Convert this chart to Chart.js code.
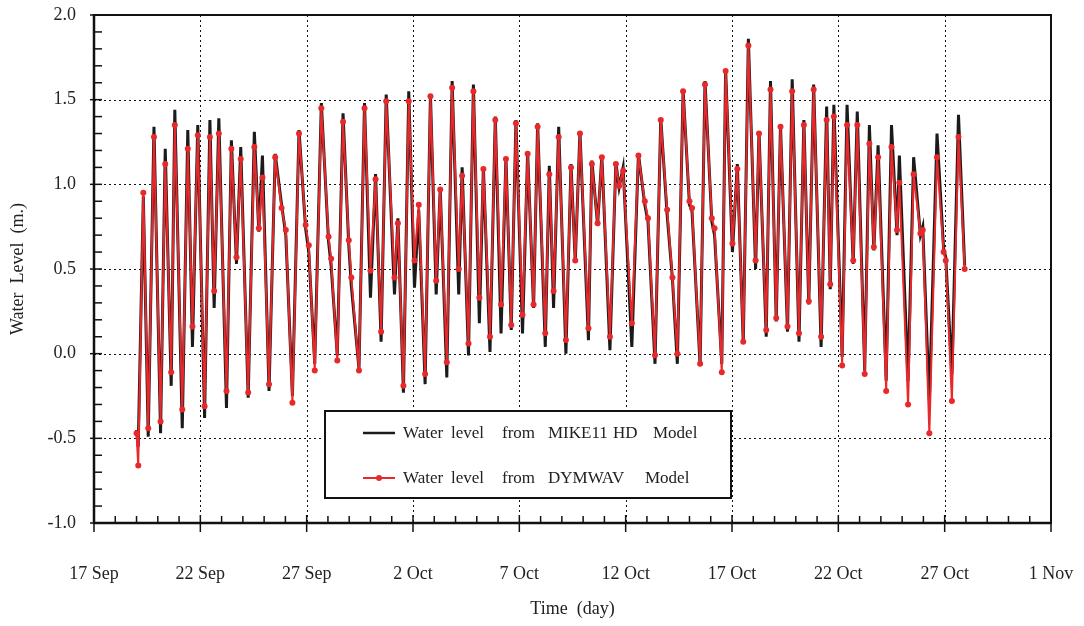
<!DOCTYPE html>
<html>
<head>
<meta charset="utf-8">
<script src="https://cdn.jsdelivr.net/npm/chart.js@4.4.1/dist/chart.umd.min.js"></script>
<style>
  html, body { margin: 0; padding: 0; background: #ffffff; }
  #wrap { width: 1084px; height: 626px; }
</style>
</head>
<body>
<div id="wrap"><canvas id="c" width="1084" height="626"></canvas></div>
<script>
// Time of each sample, in days after 17 Sep 00:00
const dayOffsets = [
  2.00, 2.08, 2.32, 2.55, 2.82, 3.13, 3.35, 3.63, 3.80, 4.15,
  4.41, 4.63, 4.88, 5.20, 5.45, 5.65, 5.87, 6.23, 6.46, 6.70,
  6.90, 7.25, 7.54, 7.75, 7.92, 8.23, 8.52, 8.82, 9.02, 9.33,
  9.64, 9.95, 10.10, 10.38, 10.69, 11.03, 11.15, 11.44, 11.71, 11.98,
  12.10, 12.46, 12.72, 13.00, 13.24, 13.50, 13.74, 14.13, 14.29, 14.55,
  14.80, 15.07, 15.27, 15.57, 15.82, 16.09, 16.28, 16.59, 16.84, 17.15,
  17.31, 17.61, 17.84, 18.12, 18.31, 18.62, 18.87, 19.14, 19.37, 19.62,
  19.84, 20.15, 20.39, 20.67, 20.86, 21.22, 21.41, 21.61, 21.85, 22.19,
  22.43, 22.63, 22.85, 23.25, 23.41, 23.68, 23.88, 24.26, 24.54, 24.69,
  24.88, 25.29, 25.60, 25.90, 26.05, 26.38, 26.65, 26.95, 27.20, 27.43,
  27.70, 28.00, 28.12, 28.50, 28.73, 29.05, 29.18, 29.52, 29.70, 30.02,
  30.25, 30.53, 30.77, 31.11, 31.27, 31.61, 31.81, 32.08, 32.28, 32.61,
  32.83, 33.15, 33.38, 33.61, 33.84, 34.19, 34.45, 34.62, 34.79, 35.18,
  35.41, 35.70, 35.89, 36.24, 36.46, 36.67, 36.87, 37.25, 37.50, 37.76,
  37.87, 38.28, 38.54, 38.86, 38.97, 39.28, 39.64, 39.95, 40.05, 40.34,
  40.65, 40.94
];

// Water level (m) from the MIKE11 HD model
const mike11Level = [
  -0.45, -0.55, 0.93, -0.49, 1.34, -0.47, 1.21, -0.19, 1.44, -0.44,
  1.32, 0.04, 1.35, -0.38, 1.38, 0.27, 1.39, -0.32, 1.26, 0.53,
  1.22, -0.26, 1.31, 0.72, 1.17, -0.22, 1.18, 0.88, 0.70, -0.25,
  1.32, 0.74, 0.60, -0.06, 1.48, 0.66, 0.52, -0.01, 1.42, 0.64,
  0.40, -0.09, 1.48, 0.33, 1.06, 0.07, 1.53, 0.35, 0.80, -0.23,
  1.55, 0.39, 0.85, -0.18, 1.53, 0.35, 0.98, -0.14, 1.61, 0.35,
  1.10, -0.01, 1.59, 0.18, 1.10, 0.01, 1.40, 0.12, 1.16, 0.14,
  1.38, 0.12, 1.19, 0.27, 1.36, 0.04, 1.11, 0.27, 1.34, 0.00,
  1.12, 0.54, 1.31, 0.08, 1.14, 0.76, 1.17, 0.02, 1.13, 0.98,
  1.10, 0.04, 1.18, 0.88, 0.78, -0.06, 1.39, 0.82, 0.44, -0.06,
  1.56, 0.88, 0.84, -0.07, 1.61, 0.78, 0.70, -0.06, 1.68, 0.60,
  1.12, 0.06, 1.86, 0.50, 1.31, 0.10, 1.61, 0.19, 1.35, 0.13,
  1.62, 0.07, 1.38, 0.29, 1.59, 0.04, 1.46, 0.38, 1.47, -0.02,
  1.47, 0.53, 1.43, -0.10, 1.35, 0.61, 1.23, -0.16, 1.35, 0.70,
  1.17, -0.16, 1.16, 0.70, 0.75, -0.28, 1.30, 0.62, 0.57, -0.12,
  1.41, 0.52
];

// Water level (m) from the DYMWAV model
const dymwavLevel = [
  -0.47, -0.66, 0.95, -0.44, 1.28, -0.40, 1.12, -0.11, 1.35, -0.33,
  1.21, 0.16, 1.29, -0.31, 1.28, 0.37, 1.30, -0.22, 1.21, 0.57,
  1.15, -0.23, 1.22, 0.74, 1.04, -0.18, 1.16, 0.86, 0.73, -0.29,
  1.30, 0.76, 0.64, -0.10, 1.45, 0.69, 0.56, -0.04, 1.37, 0.67,
  0.45, -0.10, 1.45, 0.49, 1.03, 0.13, 1.49, 0.45, 0.77, -0.19,
  1.49, 0.55, 0.88, -0.12, 1.52, 0.43, 0.97, -0.05, 1.57, 0.50,
  1.05, 0.06, 1.55, 0.33, 1.09, 0.10, 1.38, 0.29, 1.15, 0.17,
  1.36, 0.23, 1.18, 0.29, 1.34, 0.12, 1.06, 0.37, 1.28, 0.08,
  1.10, 0.55, 1.30, 0.15, 1.12, 0.77, 1.16, 0.10, 1.12, 0.99,
  1.08, 0.18, 1.17, 0.90, 0.80, -0.01, 1.38, 0.85, 0.45, 0.00,
  1.55, 0.90, 0.86, -0.06, 1.59, 0.80, 0.74, -0.11, 1.67, 0.65,
  1.09, 0.07, 1.82, 0.55, 1.30, 0.14, 1.56, 0.21, 1.34, 0.16,
  1.55, 0.12, 1.35, 0.31, 1.56, 0.10, 1.38, 0.41, 1.40, -0.07,
  1.35, 0.55, 1.35, -0.12, 1.24, 0.63, 1.16, -0.22, 1.22, 0.73,
  1.01, -0.30, 1.06, 0.71, 0.73, -0.47, 1.16, 0.60, 0.55, -0.28,
  1.28, 0.50
];

// Date labels for every fifth day on the time axis
const dateLabels = ['17 Sep', '22 Sep', '27 Sep', '2 Oct', '7 Oct', '12 Oct', '17 Oct', '22 Oct', '27 Oct', '1 Nov'];

// Level ticks (m)
const levelTicks = [-1.0, -0.5, 0.0, 0.5, 1.0, 1.5, 2.0];

const seriesNames = ['Water level from MIKE11 HD Model', 'Water level from DYMWAV Model'];

const RED = '#e8292b';
const BLACK = '#1b1b1b';
const TEXT = '#222222';
const SERIF = '"Liberation Serif", "DejaVu Serif", serif';

const toPoints = (vals) => dayOffsets.map((d, i) => ({ x: d, y: vals[i] }));

// Frame, dotted grid and inward tick marks, placed through the chart's scales
const frameAndGrid = {
  id: 'frameAndGrid',
  beforeDatasetsDraw(chart) {
    const { ctx, chartArea: a, scales: { x, y } } = chart;
    ctx.save();
    ctx.strokeStyle = '#111';
    ctx.lineWidth = 1;
    ctx.setLineDash([2, 3]);
    for (let d = 5; d < 45; d += 5) {
      const px = Math.round(x.getPixelForValue(d)) + 0.5;
      ctx.beginPath(); ctx.moveTo(px, a.top); ctx.lineTo(px, a.bottom); ctx.stroke();
    }
    levelTicks.forEach(v => {
      if (v <= -1 || v >= 2) return;
      const py = Math.round(y.getPixelForValue(v)) + 0.5;
      ctx.beginPath(); ctx.moveTo(a.left, py); ctx.lineTo(a.right, py); ctx.stroke();
    });
    ctx.restore();
  },
  afterDatasetsDraw(chart) {
    const { ctx, chartArea: a, scales: { x, y } } = chart;
    ctx.save();
    ctx.strokeStyle = '#111';
    ctx.setLineDash([]);
    // one tick per day on the time axis; every fifth day crosses the axis
    ctx.lineWidth = 1.5;
    for (let d = 1; d < 45; d++) {
      const px = x.getPixelForValue(d);
      ctx.beginPath();
      if (d % 5 === 0) { ctx.moveTo(px, a.bottom - 8); ctx.lineTo(px, a.bottom + 9); }
      else { ctx.moveTo(px, a.bottom); ctx.lineTo(px, a.bottom - 7); }
      ctx.stroke();
    }
    [0, 45].forEach(d => {
      const px = x.getPixelForValue(d);
      ctx.beginPath(); ctx.moveTo(px, a.bottom); ctx.lineTo(px, a.bottom + 9); ctx.stroke();
    });
    // minor ticks on the level axis, every 0.1 m
    for (let k = -9; k < 20; k++) {
      const py = y.getPixelForValue(k / 10);
      ctx.beginPath(); ctx.moveTo(a.left, py); ctx.lineTo(a.left + 8, py); ctx.stroke();
    }
    levelTicks.forEach(v => {
      const py = y.getPixelForValue(v);
      ctx.beginPath(); ctx.moveTo(a.left - 4, py); ctx.lineTo(a.left, py); ctx.stroke();
    });
    // frame
    ctx.lineWidth = 2;
    ctx.strokeRect(a.left, a.top, a.right - a.left, a.bottom - a.top);
    ctx.lineWidth = 2.5;
    ctx.beginPath(); ctx.moveTo(a.left, a.top); ctx.lineTo(a.left, a.bottom); ctx.lineTo(a.right, a.bottom); ctx.stroke();
    ctx.restore();
  }
};

// Boxed legend inside the plot
const legendBox = {
  id: 'legendBox',
  afterDraw(chart) {
    const { ctx } = chart;
    ctx.save();
    ctx.fillStyle = '#ffffff';
    ctx.fillRect(325, 411, 406, 87);
    ctx.strokeStyle = '#111';
    ctx.lineWidth = 2;
    ctx.strokeRect(325, 411, 406, 87);

    ctx.lineWidth = 2.5;
    ctx.strokeStyle = BLACK;
    ctx.beginPath(); ctx.moveTo(363, 433); ctx.lineTo(395, 433); ctx.stroke();
    ctx.lineWidth = 2;
    ctx.strokeStyle = RED;
    ctx.beginPath(); ctx.moveTo(363, 478); ctx.lineTo(395, 478); ctx.stroke();
    ctx.fillStyle = RED;
    ctx.beginPath(); ctx.arc(379, 478, 3, 0, Math.PI * 2); ctx.fill();

    ctx.fillStyle = TEXT;
    ctx.font = '17px ' + SERIF;
    ctx.textBaseline = 'middle';
    ctx.textAlign = 'left';
    const rows = [
      { y: 434, xs: [403, 451, 502, 548, 613, 653], words: seriesNames[0].split(' ') },
      { y: 479, xs: [403, 451, 502, 548, 645], words: seriesNames[1].split(' ') }
    ];
    rows.forEach(r => r.words.forEach((w, i) => ctx.fillText(w, r.xs[i], r.y)));
    ctx.restore();
  }
};

// Keep the plot box fixed: no extra room for overhanging end labels
const noLabelOverhang = (s) => {
  s.paddingLeft = 0; s.paddingRight = 0; s.paddingTop = 0; s.paddingBottom = 0;
};

new Chart(document.getElementById('c'), {
  type: 'line',
  data: {
    datasets: [
      {
        label: seriesNames[1],
        data: toPoints(dymwavLevel),
        borderColor: RED,
        backgroundColor: RED,
        borderWidth: 2,
        pointRadius: 3,
        pointBorderWidth: 0,
        pointBackgroundColor: RED,
        tension: 0,
        order: 1
      },
      {
        label: seriesNames[0],
        data: toPoints(mike11Level),
        borderColor: BLACK,
        borderWidth: 3,
        pointRadius: 0,
        tension: 0,
        order: 2
      }
    ]
  },
  options: {
    responsive: false,
    animation: false,
    events: [],
    layout: { padding: { top: 15, right: 33, left: 0, bottom: 0 } },
    plugins: { legend: { display: false }, tooltip: { enabled: false } },
    scales: {
      x: {
        type: 'linear',
        min: 0,
        max: 45,
        afterFit: (s) => { s.height = 103; noLabelOverhang(s); },
        grid: { display: false, drawTicks: false },
        border: { display: false },
        ticks: {
          stepSize: 5,
          autoSkip: false,
          maxRotation: 0,
          padding: 40,
          color: TEXT,
          font: { family: SERIF, size: 18 },
          callback: (v) => (v % 5 === 0 ? dateLabels[v / 5] : '')
        },
        title: {
          display: true,
          text: 'Time  (day)',
          color: TEXT,
          font: { family: SERIF, size: 18 },
          padding: { top: 0, bottom: 6 }
        }
      },
      y: {
        min: -1,
        max: 2,
        afterFit: (s) => { s.width = 94; noLabelOverhang(s); },
        grid: { display: false, drawTicks: false },
        border: { display: false },
        ticks: {
          stepSize: 0.5,
          padding: 18,
          color: TEXT,
          font: { family: SERIF, size: 18 },
          callback: (v) => Number(v).toFixed(1)
        },
        title: {
          display: true,
          text: 'Water  Level  (m.)',
          color: TEXT,
          font: { family: SERIF, size: 18 },
          padding: { top: 7, bottom: 0 }
        }
      }
    }
  },
  plugins: [frameAndGrid, legendBox]
});
</script>
</body>
</html>
